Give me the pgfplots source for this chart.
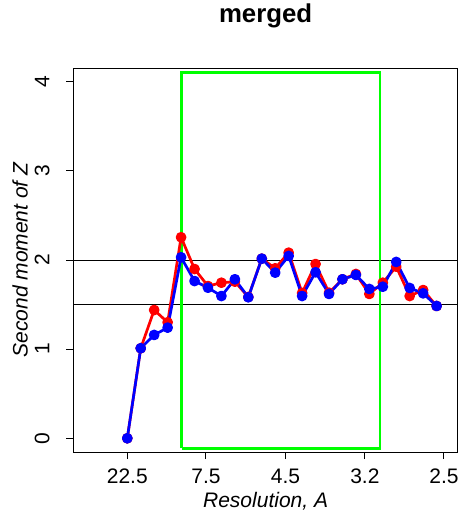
\documentclass[border=0pt]{standalone}
\usepackage{pgfplots}
\pgfplotsset{compat=1.18}
\usepackage{fontspec}
\setmainfont{Liberation Sans}
\definecolor{rred}{RGB}{255,0,0}
\definecolor{rblue}{RGB}{0,0,255}
\definecolor{rgreen}{RGB}{0,255,0}
\begin{document}
\begin{tikzpicture}
\begin{axis}[
  scale only axis,
  width=384.2pt, height=384pt,
  xmin=-4.0, xmax=24.57,
  ymin=-0.154, ymax=4.154,
  axis line style={line width=1pt},
  tick style={black, line width=1pt},
  tick align=outside,
  major tick length=7pt,
  xtick={0,5.85,11.77,17.67,23.55},
  xticklabels={22.5,7.5,4.5,3.2,2.5},
  ytick={0,1,2,3,4},
  xtick pos=bottom, ytick pos=left,
  /pgf/number format/assume math mode=true,
  ticklabel style={font=\fontsize{21}{25}\selectfont},
  xticklabel style={anchor=base, inner sep=0pt, yshift=-24.7pt},
  yticklabel style={xshift=-16.8pt, rotate=90, anchor=south, inner sep=0pt},
  title={merged},
  title style={font=\fontsize{25.8}{30}\selectfont\bfseries, at={(axis description cs:0.5,1.1034)}, anchor=base, inner sep=0pt},
  xlabel={Resolution, A},
  ylabel={Second moment of Z},
  xlabel style={font=\fontsize{21}{25}\selectfont\itshape, at={(axis description cs:0.5,-0.1458)}, anchor=base, inner sep=0pt},
  ylabel style={font=\fontsize{21}{25}\selectfont\itshape, at={(axis description cs:-0.1195,0.5)}, anchor=base, inner sep=0pt},
  clip=false,
]
\addplot[black, line width=1pt, forget plot] coordinates {(-4.0,2) (24.57,2)};
\addplot[black, line width=1pt, forget plot] coordinates {(-4.0,1.5) (24.57,1.5)};
\addplot[rgreen, line width=2.8pt, forget plot] coordinates {(4.04,-0.112) (4.04,4.105) (18.79,4.105) (18.79,-0.112) (4.04,-0.112)};
\addplot[rred, line width=2.7pt, line join=round, mark=*, mark size=4pt, mark options={solid, fill=rred, draw=none}] coordinates {
(0,0) (1,1.01) (2,1.439) (3,1.301) (4,2.255) (5,1.899) (6,1.708) (7,1.745) (8,1.757) (9,1.585)
(10,2.015) (11,1.907) (12,2.082) (13,1.630) (14,1.955) (15,1.633) (16,1.784) (17,1.843) (18,1.619) (19,1.745)
(20,1.925) (21,1.596) (22,1.663) (23,1.484)};
\addplot[rblue, line width=2.7pt, line join=round, mark=*, mark size=4pt, mark options={solid, fill=rblue, draw=none}] coordinates {
(0,0) (1,1.01) (2,1.159) (3,1.241) (4,2.030) (5,1.764) (6,1.689) (7,1.596) (8,1.784) (9,1.582)
(10,2.015) (11,1.858) (12,2.045) (13,1.596) (14,1.862) (15,1.619) (16,1.784) (17,1.832) (18,1.675) (19,1.700)
(20,1.978) (21,1.686) (22,1.626) (23,1.484)};
\end{axis}
\pgfresetboundingbox
\path[use as bounding box] (-73.5pt,-65pt) rectangle (388.5pt,452pt);
\end{tikzpicture}
\end{document}
